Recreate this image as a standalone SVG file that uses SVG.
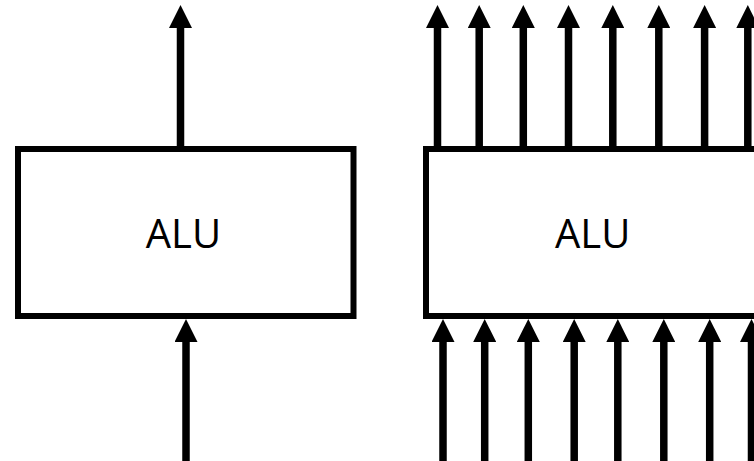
<svg xmlns="http://www.w3.org/2000/svg" width="754" height="461" viewBox="0 0 754 461">
<defs>
<marker id="ah" viewBox="0 0 23 23" refX="0" refY="11.5" markerWidth="23" markerHeight="23" markerUnits="userSpaceOnUse" orient="auto">
<path d="M0,0 L23,11.5 L0,23 Z" fill="#000"/>
</marker>
<style>
.box{fill:#fff;stroke:#000;stroke-width:6}
.lbl{font-family:"Open Sans","Noto Sans",sans-serif;font-size:40px;fill:#000;text-anchor:middle}
.wire{stroke:#000;stroke-width:7.5;fill:none;marker-end:url(#ah)}
</style>
</defs>
<g id="alu1">
<rect class="box" x="18" y="149" width="335.5" height="167"/>
<text class="lbl" x="183.5" y="247.5">ALU</text>
</g>
<g id="alu2">
<rect class="box" x="426" y="149" width="340" height="167"/>
<text class="lbl" x="592.7" y="247.5">ALU</text>
</g>
<g id="connectors">
<line class="wire" x1="180.5" y1="146" x2="180.5" y2="28"/>
<line class="wire" x1="186" y1="461" x2="186" y2="342"/>
<line class="wire" x1="437.5" y1="146" x2="437.5" y2="28"/>
<line class="wire" x1="479.2" y1="146" x2="479.2" y2="28"/>
<line class="wire" x1="523.3" y1="146" x2="523.3" y2="28"/>
<line class="wire" x1="568.5" y1="146" x2="568.5" y2="28"/>
<line class="wire" x1="612.8" y1="146" x2="612.8" y2="28"/>
<line class="wire" x1="658.8" y1="146" x2="658.8" y2="28"/>
<line class="wire" x1="704.6" y1="146" x2="704.6" y2="28"/>
<line class="wire" x1="747.8" y1="146" x2="747.8" y2="28"/>
<line class="wire" x1="443" y1="461" x2="443" y2="342"/>
<line class="wire" x1="484.7" y1="461" x2="484.7" y2="342"/>
<line class="wire" x1="528.3" y1="461" x2="528.3" y2="342"/>
<line class="wire" x1="574.2" y1="461" x2="574.2" y2="342"/>
<line class="wire" x1="617.8" y1="461" x2="617.8" y2="342"/>
<line class="wire" x1="663.8" y1="461" x2="663.8" y2="342"/>
<line class="wire" x1="709.7" y1="461" x2="709.7" y2="342"/>
<line class="wire" x1="751.5" y1="461" x2="751.5" y2="342"/>
</g>
</svg>
